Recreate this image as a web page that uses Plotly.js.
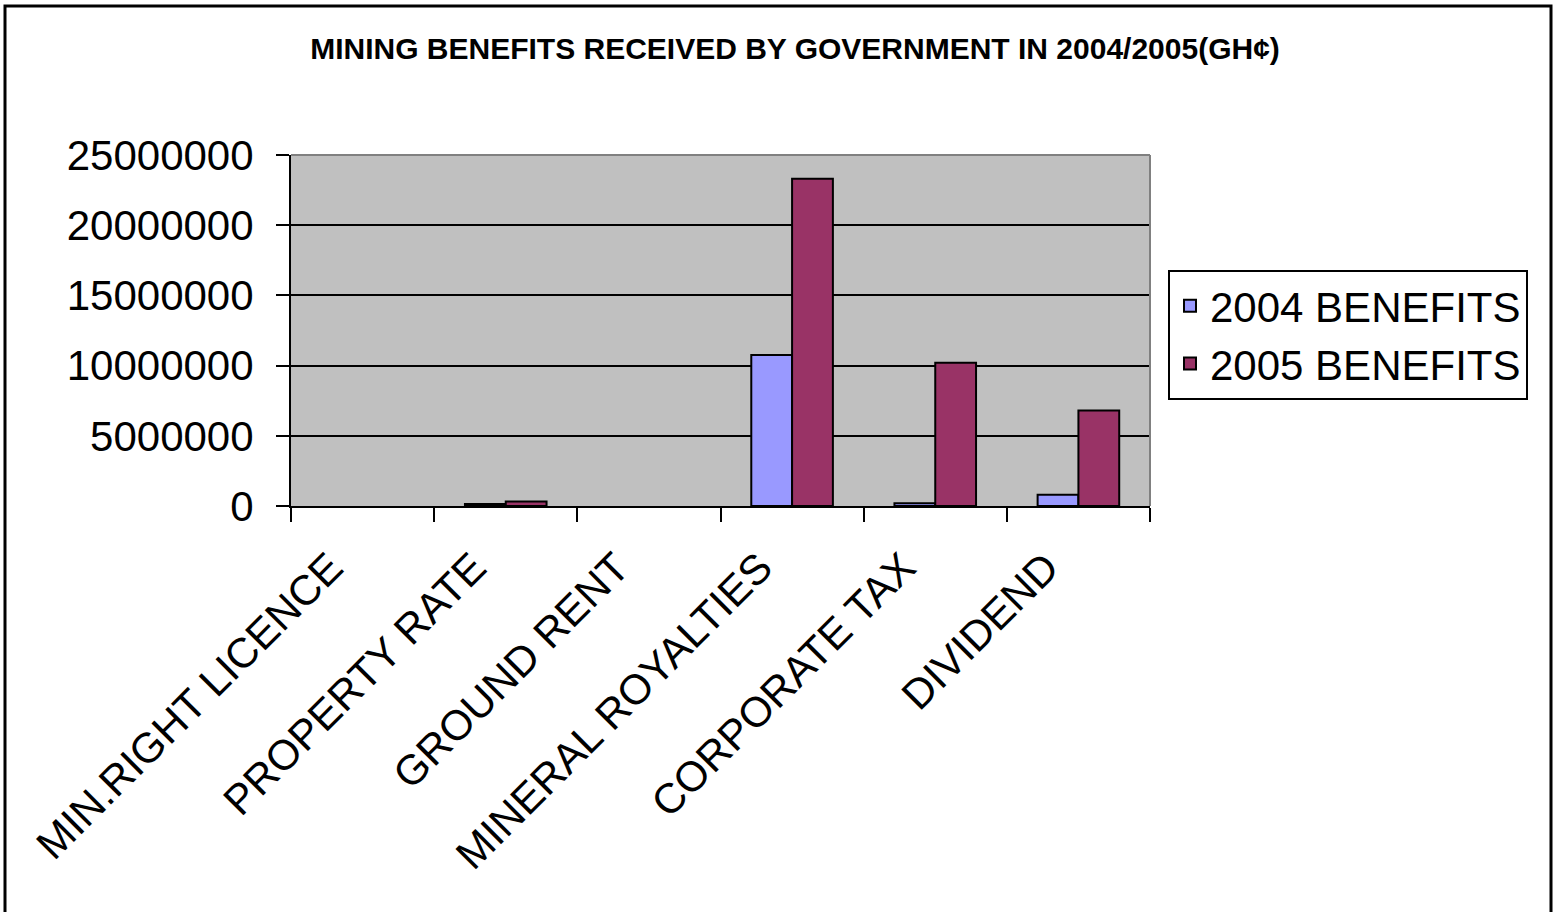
<!DOCTYPE html>
<html>
<head>
<meta charset="utf-8">
<script src="https://cdn.plot.ly/plotly-3.0.1.min.js"></script>
<style>
  html, body { margin: 0; padding: 0; background: #ffffff; }
  #chart { width: 1557px; height: 912px; }
</style>
</head>
<body>
<div id="chart"></div>
<script>
const categories = ["MIN.RIGHT LICENCE", "PROPERTY RATE", "GROUND RENT", "MINERAL ROYALTIES", "CORPORATE TAX", "DIVIDEND"];
const benefits2004 = [null, 150000, null, 10750000, 200000, 800000];
const benefits2005 = [null, 320000, null, 23300000, 10200000, 6800000];
const seriesNames = ["2004 BENEFITS", "2005 BENEFITS"];
const yTicks = [0, 5000000, 10000000, 15000000, 20000000, 25000000];

const FONT = "Liberation Sans, Arial, sans-serif";

const traces = [
  {
    type: "bar", x: categories, y: benefits2004, name: seriesNames[0],
    marker: { color: "#9999FF", line: { color: "#000000", width: 2 } }
  },
  {
    type: "bar", x: categories, y: benefits2005, name: seriesNames[1],
    marker: { color: "#993366", line: { color: "#000000", width: 2 } }
  }
];

// plot area: x 291..1150, y 155..506
const L = 291, R = 1150, T = 155, B = 506;
const PW = R - L, PH = B - T;
const px = v => (v - L) / PW;
const py = v => (B - v) / PH;

const layout = {
  width: 1557, height: 912,
  margin: { l: L, r: 1557 - R, t: T, b: 912 - B, pad: 0 },
  paper_bgcolor: "#ffffff",
  plot_bgcolor: "#C0C0C0",
  font: { family: FONT, color: "#000000", size: 40 },
  title: {
    text: "<b>MINING BENEFITS RECEIVED BY GOVERNMENT IN 2004/2005(GH¢)</b>",
    font: { family: FONT, size: 30, color: "#000000" },
    x: 795 / 1557, xanchor: "center", xref: "container",
    y: 1 - 48 / 912, yanchor: "middle", yref: "container"
  },
  barmode: "group",
  bargap: 0.43,
  bargroupgap: 0,
  xaxis: {
    type: "category",
    tickson: "boundaries",
    ticks: "outside", ticklen: 14, tickwidth: 2, tickcolor: "#000000",
    showline: true, linecolor: "#000000", linewidth: 2,
    showgrid: false, zeroline: false,
    tickangle: -45,
    ticklabelshift: -32,
    ticklabelstandoff: 18,
    tickfont: { family: FONT, size: 42, color: "#000000" },
    automargin: false
  },
  yaxis: {
    range: [0, 25000000],
    tickvals: yTicks,
    ticktext: yTicks.map(v => String(v)),
    ticks: "outside", ticklen: 13, tickwidth: 2, tickcolor: "#000000",
    ticklabelstandoff: 14,
    showline: true, linecolor: "#000000", linewidth: 2,
    showgrid: true, gridcolor: "#000000", gridwidth: 2,
    zeroline: false,
    tickfont: { family: FONT, size: 42, color: "#000000" },
    automargin: false
  },
  showlegend: true,
  legend: {
    x: px(1168), xanchor: "left", xref: "paper",
    y: py(270), yanchor: "top", yref: "paper",
    bgcolor: "#ffffff", bordercolor: "#000000", borderwidth: 2,
    font: { family: FONT, size: 42, color: "#000000" },
    traceorder: "normal"
  },
  shapes: [
    { type: "line", xref: "paper", yref: "paper", x0: 0, x1: 1, y0: 1, y1: 1,
      line: { color: "#808080", width: 2 } },
    { type: "line", xref: "paper", yref: "paper", x0: 1, x1: 1, y0: 0, y1: 1,
      line: { color: "#808080", width: 2 } },
    { type: "rect", xref: "paper", yref: "paper",
      x0: px(5), x1: px(1551), y0: py(930), y1: py(6),
      line: { color: "#000000", width: 3 }, fillcolor: "rgba(0,0,0,0)", layer: "above" }
  ]
};

Plotly.newPlot("chart", traces, layout, { displayModeBar: false, staticPlot: true });
</script>
</body>
</html>
